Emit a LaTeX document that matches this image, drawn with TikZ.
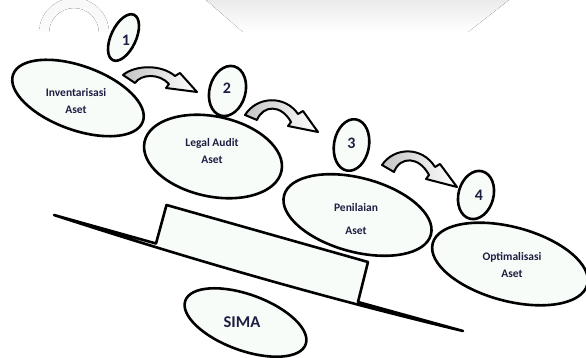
\documentclass[tikz,border=0pt]{standalone}
\usepackage{fontspec}
\setmainfont{Carlito}
\usetikzlibrary{shapes.geometric}
\definecolor{bubblefill}{RGB}{248,252,248}
\definecolor{labelcol}{RGB}{30,30,66}
\definecolor{arrowgrey}{RGB}{196,196,196}
\begin{document}
\begin{tikzpicture}[x=1pt,y=-1pt,
  bubble/.style={ellipse, draw=black, line width=2.6pt, fill=bubblefill, inner sep=0pt},
  lbl/.style={font=\bfseries\fontsize{11.5}{17}\selectfont, text=labelcol, align=center, inner sep=0pt},
  num/.style={font=\bfseries\fontsize{16}{18}\selectfont, text=labelcol, inner sep=0pt},
  bent/.style={draw=black, line width=2pt, line join=round, left color=arrowgrey, right color=white},
  lever/.style={draw=black, line width=2.6pt, line join=round, fill=bubblefill}]
\useasboundingbox (0,0) rectangle (586,358);
% faint background marks
\fill[top color=gray!16, bottom color=white] (206,0) -- (509,0) -- (468,32) -- (243,32) -- cycle;
\begin{scope}
  \clip (0,0) rectangle (140,32);
  \fill[even odd rule, top color=gray!6, bottom color=white] (74,33) circle (35pt) (74,33) circle (25pt);
\end{scope}
% lever
\draw[lever] (54,215) -- (156,243.5) -- (166.5,205) -- (368,262) -- (358,302) -- (463,331)
  .. controls (325,298) and (189,259) .. (54,215) -- cycle;
% main ellipses
\node[bubble, minimum width=138pt, minimum height=64pt, rotate=-20] (e1) at (78,98) {};
\node[bubble, minimum width=140pt, minimum height=80pt, rotate=-12] (e2) at (213,156.5) {};
\node[bubble, minimum width=152pt, minimum height=74pt, rotate=-15] (e3) at (357.5,215) {};
\node[bubble, minimum width=160pt, minimum height=74pt, rotate=-15] (e4) at (510,264) {};
\node[bubble, minimum width=128pt, minimum height=56pt, rotate=-20] (e5) at (245.5,322.5) {};
% number ellipses
\node[bubble, minimum width=50pt, minimum height=25pt, rotate=65] (c1) at (123.5,37.5) {};
\node[bubble, minimum width=51pt, minimum height=36pt, rotate=75] (c2) at (227.5,91) {};
\node[bubble, minimum width=52pt, minimum height=35pt, rotate=80] (c3) at (351.5,145) {};
\node[bubble, minimum width=49pt, minimum height=35pt, rotate=75] (c4) at (476,195) {};
% labels
\node[lbl] (t1) at (76,101.5) {Inventarisasi\\Aset};
\node[lbl] (t2) at (212,151) {Legal Audit\\Aset};
\node[lbl, font=\bfseries\fontsize{11.5}{23}\selectfont] (t3) at (356,219.5) {Penilaian\\Aset};
\node[lbl] (t4) at (512,264.5) {Optimalisasi\\Aset};
\node[lbl, font=\bfseries\fontsize{16.5}{18}\selectfont] (t5) at (242,322) {SIMA};
\node[num] (n1) at (126,40) {1};
\node[num] (n2) at (227,88) {2};
\node[num] (n3) at (351.5,143) {3};
\node[num] (n4) at (479,195) {4};
% curved block arrows
\begin{scope}[shift={(129,78)}]
  \draw[bent] (-6,-3) .. controls (6,-13) and (32,-14) .. (46,-2) -- (51,-5) -- (68,14) -- (37,10) -- (40,6)
    .. controls (30,-5) and (12,-4) .. (6,5) -- cycle;
\end{scope}
\begin{scope}[shift={(251,117)}]
  \draw[bent] (-6,-2) .. controls (6,-21) and (34,-22) .. (47,-3) -- (52,-6) -- (67,15) -- (37,9) -- (40,5)
    .. controls (30,-13) and (12,-12) .. (6,3) -- cycle;
\end{scope}
\begin{scope}[shift={(388,168)}]
  \draw[bent] (-6,-3) .. controls (6,-21) and (34,-22) .. (47,-1) -- (52,-4) -- (69,19) -- (38,11) -- (41,7)
    .. controls (31,-12) and (12,-12) .. (6,4) -- cycle;
\end{scope}
\end{tikzpicture}
\end{document}
